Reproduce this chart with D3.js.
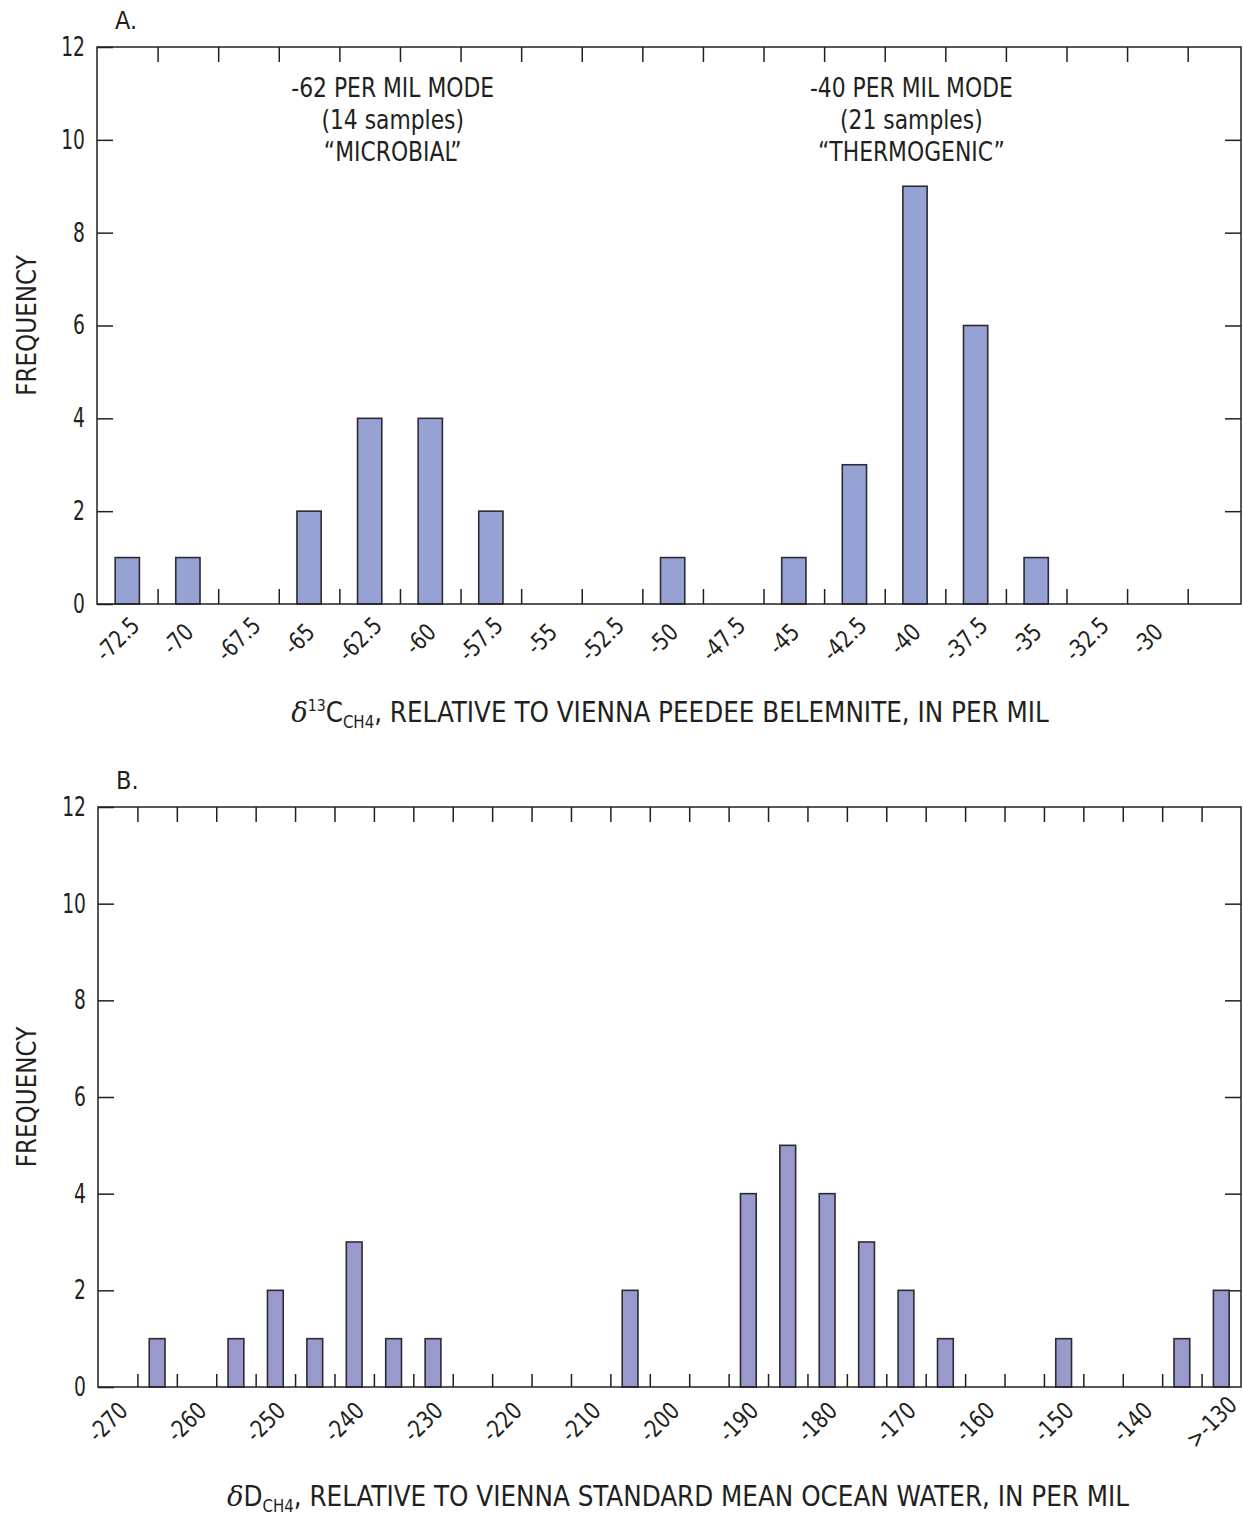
<!DOCTYPE html>
<html>
<head>
<meta charset="utf-8">
<script src="https://cdn.jsdelivr.net/npm/d3@7"></script>
<style>
  body { margin: 0; background: #fff; }
  text { font-family: "Liberation Sans Narrow", "DejaVu Sans Condensed", sans-serif; fill: #231f20; }
</style>
</head>
<body>
<div id="chart-area"></div>
<script>
// panel A: delta 13C of methane, bins of 2.5 per mil
const centersA = [-72.5, -70, -67.5, -65, -62.5, -60, -57.5, -55, -52.5, -50, -47.5, -45, -42.5, -40, -37.5, -35, -32.5, -30];
const countsA  = [1, 1, 0, 2, 4, 4, 2, 0, 0, 1, 0, 1, 3, 9, 6, 1, 0, 0];
const labelsA  = ["-72.5", "-70", "-67.5", "-65", "-62.5", "-60", "-57.5", "-55", "-52.5", "-50", "-47.5", "-45", "-42.5", "-40", "-37.5", "-35", "-32.5", "-30"];

// panel B: delta D of methane, bins of 5 per mil
const centersB = [-270, -265, -260, -255, -250, -245, -240, -235, -230, -225, -220, -215, -210, -205, -200, -195, -190, -185, -180, -175, -170, -165, -160, -155, -150, -145, -140, -135, -130];
const countsB  = [0, 1, 0, 1, 2, 1, 3, 1, 1, 0, 0, 0, 0, 2, 0, 0, 4, 5, 4, 3, 2, 1, 0, 0, 1, 0, 0, 1, 2];
const labelValuesB = [-270, -260, -250, -240, -230, -220, -210, -200, -190, -180, -170, -160, -150, -140, -130];
const labelsB  = ["-270", "-260", "-250", "-240", "-230", "-220", "-210", "-200", "-190", "-180", "-170", "-160", "-150", "-140", ">-130"];

const yTicks = [0, 2, 4, 6, 8, 10, 12];

const svg = d3.select("#chart-area").append("svg")
    .attr("width", 1243)
    .attr("height", 1516);

svg.append("rect").attr("width", 1243).attr("height", 1516).attr("fill", "#fff");

function panel(opt) {
    const g = svg.append("g");
    const x = d3.scaleLinear().domain(opt.xDomain).range([opt.left, opt.right]);
    const y = d3.scaleLinear().domain([0, 12]).range([opt.bottom, opt.top]);
    const barW = (x(opt.bin) - x(0)) * 0.4;

    // tick marks at bin edges
    const edges = [];
    for (let v = opt.xDomain[0] + opt.bin; v < opt.xDomain[1] - 0.01; v += opt.bin) edges.push(v);

    g.append("g")
        .attr("transform", `translate(0,${opt.bottom})`)
        .call(d3.axisBottom(x).tickValues(edges).tickSize(-opt.tickLen).tickSizeOuter(0).tickFormat(""))
        .call(a => a.select(".domain").remove());
    g.append("g")
        .attr("transform", `translate(0,${opt.top})`)
        .call(d3.axisTop(x).tickValues(edges).tickSize(-15).tickSizeOuter(0).tickFormat(""))
        .call(a => a.select(".domain").remove());

    const sy = 0.8;
    g.append("g")
        .attr("transform", `translate(${opt.left},0)`)
        .call(d3.axisLeft(y).tickValues(yTicks).tickSize(-16).tickSizeOuter(0).tickPadding(12))
        .call(a => a.select(".domain").remove())
        .call(a => a.selectAll("text")
            .style("font-size", "26px")
            .attr("x", -12 / sy)
            .attr("transform", `scale(${sy},1)`));
    g.append("g")
        .attr("transform", `translate(${opt.right},0)`)
        .call(d3.axisRight(y).tickValues(yTicks.slice(1, -1)).tickSize(-16).tickSizeOuter(0).tickFormat(""))
        .call(a => a.select(".domain").remove());

    g.selectAll(".tick line").attr("stroke", "#231f20").attr("stroke-width", 1.5);

    // bars
    g.selectAll("rect.bar")
        .data(opt.centers.map((c, i) => ({ c: c, n: opt.counts[i] })).filter(d => d.n > 0))
        .enter()
        .append("rect")
        .attr("class", "bar")
        .attr("x", d => x(d.c) - barW / 2)
        .attr("y", d => y(d.n))
        .attr("width", barW)
        .attr("height", d => y(0) - y(d.n))
        .attr("fill", opt.fill)
        .attr("stroke", "#2b2b33")
        .attr("stroke-width", 1.6);

    // frame
    g.append("rect")
        .attr("x", opt.left).attr("y", opt.top)
        .attr("width", opt.right - opt.left).attr("height", opt.bottom - opt.top)
        .attr("fill", "none").attr("stroke", "#231f20").attr("stroke-width", 1.5);

    // rotated tick labels
    g.selectAll("text.xlab")
        .data(opt.labelValues.map((v, i) => ({ v: v, t: opt.labels[i] })))
        .enter()
        .append("text")
        .attr("class", "xlab")
        .attr("text-anchor", "middle")
        .attr("dominant-baseline", "central")
        .attr("transform", d => `translate(${x(d.v) - 10},${opt.bottom + 35}) rotate(-45) scale(0.9,1)`)
        .style("font-size", "24px")
        .text(d => d.t);

    g.append("text")
        .attr("x", opt.left + 18).attr("y", opt.top - 18)
        .style("font-size", "25px")
        .text(opt.letter);

    g.append("text")
        .attr("transform", `translate(36,${(opt.top + opt.bottom) / 2}) rotate(-90) scale(0.95,1)`)
        .attr("text-anchor", "middle")
        .style("font-size", "27px")
        .text("FREQUENCY");

    return { g: g, x: x, y: y };
}

const pA = panel({
    xDomain: [-73.75, -26.55], bin: 2.5,
    left: 97, right: 1241, top: 47, bottom: 604, tickLen: 15,
    centers: centersA, counts: countsA, labelValues: centersA, labels: labelsA,
    fill: "#97a2d4", letter: "A."
});

const pB = panel({
    xDomain: [-272.5, -127.5], bin: 5,
    left: 98, right: 1241, top: 807, bottom: 1387, tickLen: 13,
    centers: centersB, counts: countsB, labelValues: labelValuesB, labels: labelsB,
    fill: "#9a99cb", letter: "B."
});

// mode annotations in panel A
const modes = [
    { x: -61.55, lines: ["-62 PER MIL MODE", "(14 samples)", "\u201CMICROBIAL\u201D"] },
    { x: -40.15, lines: ["-40 PER MIL MODE", "(21 samples)", "\u201CTHERMOGENIC\u201D"] }
];
modes.forEach(m => {
    m.lines.forEach((l, i) => {
        pA.g.append("text")
            .attr("transform", `translate(${pA.x(m.x)},${97 + i * 32}) scale(0.9,1)`)
            .attr("text-anchor", "middle")
            .style("font-size", "27px")
            .text(l);
    });
});

// x axis titles
function title(xc, yb, main, sup, sub, rest) {
    const t = svg.append("text")
        .attr("transform", `translate(${xc},${yb}) scale(0.98,1)`)
        .attr("text-anchor", "middle")
        .style("font-size", "28px");
    t.append("tspan").style("font-family", "'DejaVu Serif', serif").style("font-style", "italic").text("\u03B4");
    if (sup) t.append("tspan").attr("dy", -11).style("font-size", "16px").text(sup);
    t.append("tspan").attr("dy", sup ? 11 : 0).text(main);
    t.append("tspan").attr("dy", 6).style("font-size", "17px").text(sub);
    t.append("tspan").attr("dy", -6).text(rest);
}
title(670, 722, "C", "13", "CH4", ", RELATIVE TO VIENNA PEEDEE BELEMNITE, IN PER MIL");
title(678, 1506, "D", null, "CH4", ", RELATIVE TO VIENNA STANDARD MEAN OCEAN WATER, IN PER MIL");
</script>
</body>
</html>
